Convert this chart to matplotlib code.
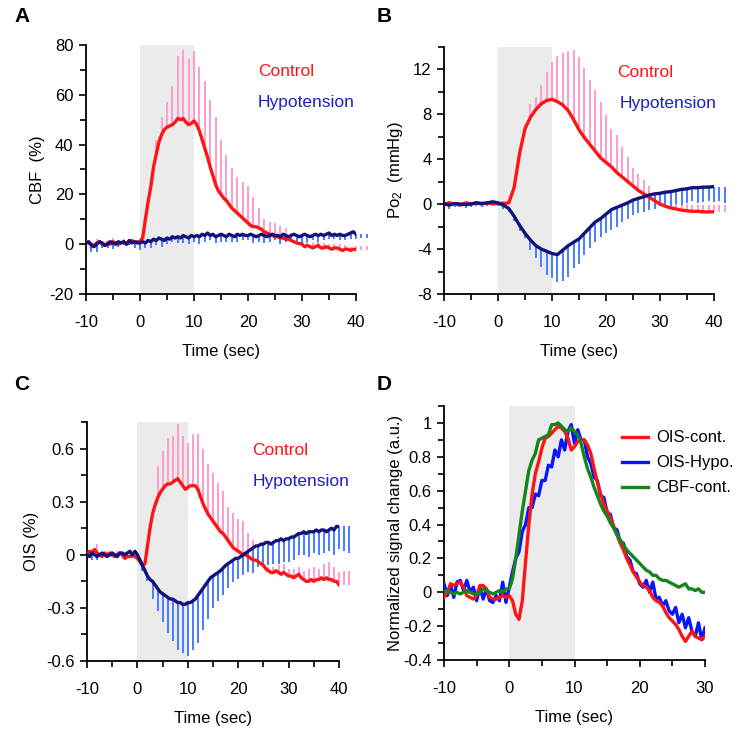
import numpy as np
import matplotlib
matplotlib.use("Agg")
import matplotlib.pyplot as plt
from matplotlib.ticker import MultipleLocator, FixedLocator, FixedFormatter

plt.rcParams['font.family'] = ['Liberation Sans', 'DejaVu Sans']
plt.rcParams['axes.unicode_minus'] = False
plt.rcParams['mathtext.fontset'] = 'custom'
plt.rcParams['mathtext.rm'] = 'Liberation Sans'
plt.rcParams['mathtext.default'] = 'regular'

# ---------------- data ----------------
# Panel A: CBF (%) sampled every 0.5 s from -10 to 40 s
A_ctrl = [1, 0.5, 0, -0.5, 0.5, 1, 0, -0.5, 0.5, 0, 1, 0.5, 0, 0.5, 1, 0, 0.5, 1.5, 0.5, 1, 1,
          2.5, 10, 17, 23, 31, 36, 41, 44, 46, 47, 47.5, 48, 49, 50.5, 50, 50.5, 49, 48, 48.5, 49.5,
          48, 45.5, 42, 38.5, 35, 31, 27.5, 24, 21.5, 20, 18.5, 17.5, 16, 14.5, 13.5, 12.5, 11.5, 10.5, 9.5, 8.5,
          7.5, 7, 7, 6.5, 6, 5, 4.5, 4, 3.5, 3, 3, 2.5, 2.5, 2, 2, 1.5, 1, 0.5, 0.3, 0,
          -1, -0.5, -1, -1.5, -1, -0.5, -1.5, -1.5, -1, -1.5, -2, -1.5, -1.5, -2, -2.5, -2, -2, -2.5, -2, -2.2]
A_hypo = [0.5, 1, -0.5, -1, 0, 1, 0.5, -0.5, 0, 1, 0.5, 0, 1, 0.5, 1, 0, 1.5, 0.5, 1, 0.5, 0.5,
          1, 0.5, 1.5, 1, 2, 1.5, 2.5, 2, 1.5, 2.5, 2, 3, 2.5, 3, 2.5, 3.5, 3, 2.5, 3.5, 3,
          3.5, 3, 4, 3.5, 4.5, 3.5, 4, 3, 3.5, 4, 3.5, 3, 4, 3.5, 3, 4, 3.5, 4, 3.5, 3.5,
          4, 3.5, 3, 3.5, 4, 3.5, 3, 3.5, 4, 3.5, 3.5, 3, 4, 3.5, 3, 3.5, 4, 3.5, 3, 3.5,
          4, 3.5, 3, 3.5, 4, 3.5, 4, 3.5, 4, 4.5, 3.5, 4, 3.5, 4, 3.5, 3.5, 4, 4.5, 5, 4]
# error bars (SEM), one per second from -9 s
A_ctrl_err = [1, 1.5, 1, 1, 1.5, 1, 1, 1.5, 1, 1, 1, 1,
              6, 7, 10, 15.5, 25, 27.5, 26.5, 28, 25.5, 27, 27, 27, 22, 18.5, 16, 14.5, 14.5, 15,
              12, 8, 5, 5, 5.5, 5, 4.5, 3, 2, 1.5, 1.5, 2, 1.5, 2, 1.5, 1.5, 2, 1.5, 1.5, 1.5, 1.5, 1.5]
A_hypo_err = [2.5, 3, 2, 1.5, 2.5, 2, 1.5, 2, 2.5, 3, 2, 2.5, 2, 3, 2.5, 2, 2.5, 3, 2.5, 2,
              3, 2.5, 2, 2.5, 3, 2, 2.5, 3, 2.5, 2, 3, 2.5, 3, 2.5, 2, 3, 2.5, 2, 2.5, 3,
              2.5, 2, 2.5, 2, 2.5, 2, 2.5, 2, 2.5, 2, 1.5, 1.5]

# Panel B: Po2 (mmHg) sampled every 1 s from -10 to 40 s
B_ctrl = [0, 0.1, 0, -0.1, 0.1, 0, 0.1, 0, 0.1, 0, 0.05,
          0.05, 0.1, 1.5, 4.5, 6.7, 7.7, 8.4, 8.9, 9.2, 9.3,
          9.1, 8.8, 8.3, 7.5, 6.6, 5.9, 5.3, 4.7, 4.1, 3.7,
          3.3, 2.8, 2.4, 2.0, 1.6, 1.2, 0.9, 0.6, 0.3, 0.0,
          -0.2, -0.35, -0.45, -0.55, -0.6, -0.65, -0.65, -0.7, -0.7, -0.7]
B_hypo = [0, -0.1, 0.05, 0, -0.05, 0, 0.1, 0.05, 0.1, 0.2, 0.1,
          -0.1, -0.4, -1.1, -1.9, -2.6, -3.2, -3.7, -4.0, -4.2, -4.4,
          -4.5, -4.1, -3.7, -3.4, -3.1, -2.6, -2.1, -1.6, -1.3, -0.9,
          -0.5, -0.3, -0.1, 0.1, 0.35, 0.5, 0.65, 0.8, 0.9, 0.95,
          1.05, 1.1, 1.2, 1.3, 1.35, 1.45, 1.45, 1.5, 1.5, 1.55]
B_ctrl_err = [0.2, 0.2, 0.2, 0.2, 0.2, 0.2, 0.2, 0.2, 0.2, 0.2, 0.2, 0.2, 0.2, 0.2, 0.2,
              1.2, 1.1, 1.7, 2.5, 3.35, 4.1, 4.6, 5.3, 6.2, 6.5, 6.2, 5.7, 5.4, 5.0, 4.2,
              3.4, 3.3, 2.7, 2.2, 1.6, 1.5, 1.2, 1.0, 0.8, 0.7,
              0.6, 0.6, 0.6, 0.6, 0.6, 0.6, 0.6, 0.6, 0.6, 0.6, 0.6, 0.6]
B_hypo_err = [0.3, 0.3, 0.3, 0.3, 0.3, 0.3, 0.3, 0.3, 0.3, 0.3, 0.3,
              0.3, 0.4, 0.5, 0.45, 0.9, 1.1, 1.6, 2.1, 2.2, 2.4, 2.75, 2.8, 2.3, 2.2, 1.9, 1.8,
              1.75, 1.6, 1.7, 1.8, 1.7, 1.5, 1.4, 1.35, 1.3, 1.35, 1.3, 1.3, 1.15,
              1.2, 1.3, 1.2, 1.4, 1.3, 1.2, 1.4, 1.3, 1.2, 1.4, 1.3, 1.5]

# Panel C: OIS (%) sampled every 0.5 s from -10 to 40 s
C_ctrl = [0.0, 0.02, 0.01, 0.03, 0.01, 0.0, -0.01, 0.01, 0.0, 0.01, 0.0, -0.01, 0.0, 0.01, 0.0, -0.02, -0.01, -0.01, 0.0, -0.01, -0.02,
          -0.04, -0.06, -0.05, 0.05, 0.15, 0.23, 0.28, 0.32, 0.35, 0.37, 0.39, 0.4, 0.4, 0.41, 0.42, 0.43, 0.41, 0.39, 0.37, 0.38,
          0.39, 0.39, 0.39, 0.37, 0.33, 0.29, 0.26, 0.23, 0.21, 0.19, 0.17, 0.15, 0.13, 0.12, 0.1, 0.08, 0.06, 0.04, 0.03, 0.02,
          0.01, 0.0, 0.0, -0.01, -0.02, -0.03, -0.03, -0.04, -0.05, -0.06, -0.08, -0.09, -0.1, -0.1, -0.09, -0.1, -0.11, -0.1, -0.11, -0.12,
          -0.12, -0.13, -0.12, -0.11, -0.13, -0.14, -0.15, -0.15, -0.14, -0.15, -0.14, -0.14, -0.13, -0.14, -0.13, -0.14, -0.14, -0.15, -0.15, -0.17]
C_hypo = [0.0, -0.01, 0.01, 0.0, -0.01, 0.0, 0.01, 0.0, -0.01, 0.0, 0.01, 0.0, -0.01, 0.01, 0.01, 0.0, 0.01, 0.02, 0.0, 0.02, 0.0,
          -0.03, -0.06, -0.09, -0.12, -0.14, -0.15, -0.17, -0.19, -0.21, -0.22, -0.23, -0.24, -0.25, -0.25, -0.26, -0.27, -0.27, -0.28, -0.28, -0.27,
          -0.27, -0.26, -0.25, -0.23, -0.21, -0.19, -0.17, -0.15, -0.13, -0.12, -0.11, -0.1, -0.09, -0.075, -0.06, -0.05, -0.04, -0.03, -0.02, -0.02,
          -0.01, 0.0, 0.01, 0.02, 0.03, 0.04, 0.05, 0.05, 0.06, 0.06, 0.07, 0.07, 0.06, 0.07, 0.08, 0.08, 0.09, 0.08, 0.09, 0.09,
          0.1, 0.1, 0.11, 0.12, 0.12, 0.13, 0.12, 0.13, 0.13, 0.13, 0.14, 0.13, 0.14, 0.14, 0.13, 0.14, 0.15, 0.14, 0.16, 0.16]
C_ctrl_err = [0.02, 0.05, 0.02, 0.01, 0.02, 0.02, 0.01, 0.02, 0.01, 0.02, 0.01, 0.01, 0.02,
              0.18, 0.215, 0.26, 0.26, 0.31, 0.28, 0.25, 0.29, 0.31, 0.31, 0.28, 0.27, 0.256, 0.24,
              0.19, 0.196, 0.18, 0.19, 0.133, 0.115, 0.04, 0.03, 0.02, 0.03, 0.04, 0.05, 0.04,
              0.05, 0.04, 0.05, 0.07, 0.08, 0.06, 0.09, 0.1, 0.08, 0.07, 0.08, 0.08]
C_hypo_err = [0.04, 0.02, 0.02, 0.01, 0.02, 0.01, 0.02, 0.01, 0.02, 0.02, 0.03, 0.03,
              0.1, 0.13, 0.16, 0.2, 0.235, 0.27, 0.275, 0.3, 0.28, 0.27, 0.235, 0.21, 0.18, 0.16,
              0.15, 0.135, 0.125, 0.115, 0.113, 0.115, 0.145, 0.12,
              0.12, 0.13, 0.12, 0.13, 0.12, 0.13, 0.13, 0.12, 0.13, 0.14, 0.12, 0.13, 0.13, 0.12, 0.14, 0.13, 0.14, 0.15]

# Panel D: normalized signal change sampled every 0.5 s from -10 to 30 s
D_ois_cont = [-0.03, 0.0, 0.05, 0.04, 0.05, 0.06, 0.03, -0.02, -0.03, -0.04, -0.02, 0.04, 0.04, 0.02, -0.03, -0.04, -0.04, -0.03, -0.02, -0.03, -0.02,
              -0.05, -0.13, -0.16, -0.05, 0.18, 0.40, 0.58, 0.70, 0.77, 0.85, 0.91, 0.92, 0.94, 0.96, 0.98, 0.97, 0.95, 0.91, 0.84, 0.86,
              0.89, 0.9, 0.9, 0.87, 0.82, 0.73, 0.65, 0.58, 0.52, 0.48, 0.44, 0.39, 0.34, 0.29, 0.25, 0.2, 0.16, 0.12, 0.09, 0.06,
              0.04, 0.03, 0.01, -0.03, -0.05, -0.06, -0.08, -0.12, -0.15, -0.17, -0.19, -0.22, -0.26, -0.29, -0.26, -0.23, -0.26, -0.27, -0.28, -0.26]
D_ois_hypo = [0.05, -0.02, 0.04, -0.03, 0.06, 0.07, 0.01, 0.07, 0.0, 0.03, -0.05, 0.03, -0.04, 0.02, -0.05, -0.06, -0.02, -0.05, 0.06, -0.06, 0.03,
              0.12, 0.2, 0.24, 0.36, 0.4, 0.5, 0.5, 0.58, 0.57, 0.66, 0.66, 0.75, 0.74, 0.84, 0.8, 0.9, 0.84, 0.95, 0.99, 0.88,
              0.96, 0.9, 0.9, 0.8, 0.76, 0.68, 0.66, 0.57, 0.56, 0.47, 0.46, 0.38, 0.37, 0.3, 0.29, 0.21, 0.19, 0.12, 0.11, 0.05,
              0.03, 0.07, 0.0, 0.06, -0.04, -0.03, -0.08, -0.05, -0.11, -0.13, -0.09, -0.18, -0.13, -0.21, -0.15, -0.23, -0.26, -0.18, -0.28, -0.21]
D_cbf_cont = [0.0, 0.01, 0.0, -0.01, 0.0, -0.01, 0.0, 0.01, 0.0, -0.01, -0.01, 0.0, 0.02, 0.01, 0.0, -0.01, 0.0, 0.01, 0.0, 0.02, 0.02,
              0.08, 0.2, 0.34, 0.48, 0.6, 0.72, 0.78, 0.82, 0.9, 0.91, 0.92, 0.93, 0.99, 0.99, 1.0, 0.98, 0.96, 0.95, 0.97, 0.95,
              0.93, 0.88, 0.8, 0.73, 0.68, 0.62, 0.57, 0.52, 0.48, 0.45, 0.41, 0.38, 0.34, 0.31, 0.28, 0.25, 0.23, 0.21, 0.19, 0.17,
              0.15, 0.13, 0.12, 0.1, 0.1, 0.08, 0.07, 0.07, 0.06, 0.05, 0.04, 0.03, 0.04, 0.05, 0.02, 0.02, 0.01, 0.02, 0.0, 0.0]

x_ticks_abc = [-10, 0, 10, 20, 30, 40]
x_ticks_d = [-10, 0, 10, 20, 30]
A_yticks = [-20, 0, 20, 40, 60, 80]
B_yticks = [-8, -4, 0, 4, 8, 12]
C_yticks = [-0.6, -0.3, 0, 0.3, 0.6]
C_yticklabels = ["-0.6", "-0.3", "0", "0.3", "0.6"]
D_yticks = [-0.4, -0.2, 0, 0.2, 0.4, 0.6, 0.8, 1.0]
D_yticklabels = ["-0.4", "-0.2", "0", "0.2", "0.4", "0.6", "0.8", "1"]

# ---------------- style ----------------
RED = "#ff1414"
NAVY = "#12127a"
PINK = "#ff9ccc"
LBLUE = "#4a7cff"
TXTBLUE = "#1e1ec8"
SHADE = "#ebebeb"
FS = 12

W, H = 750, 740
fig = plt.figure(figsize=(7.5, 7.4), dpi=100)


def ax_px(left, right, top, bottom):
    return fig.add_axes([left / W, 1 - bottom / H, (right - left) / W, (bottom - top) / H])


def style(ax, xlim, ylim, xticks, yticks, ymin_step, yticklabels=None):
    ax.set_xlim(*xlim)
    ax.set_ylim(*ylim)
    for s in ("top", "right"):
        ax.spines[s].set_visible(False)
    for s in ("left", "bottom"):
        ax.spines[s].set_linewidth(1.3)
    ax.xaxis.set_major_locator(FixedLocator(xticks))
    ax.xaxis.set_minor_locator(MultipleLocator(5))
    ax.yaxis.set_major_locator(FixedLocator(yticks))
    if yticklabels is not None:
        ax.yaxis.set_major_formatter(FixedFormatter(yticklabels))
    ax.yaxis.set_minor_locator(MultipleLocator(ymin_step))
    ax.tick_params(which="both", direction="out", width=1.2, labelsize=FS)
    ax.tick_params(which="major", length=5)
    ax.tick_params(axis="y", which="major", pad=4)
    ax.tick_params(axis="x", which="major", pad=10)
    ax.tick_params(which="minor", length=4)
    ax.axvspan(0, 10, color=SHADE, zorder=0, lw=0)
    ax.set_xlabel("Time (sec)", fontsize=FS, labelpad=10)


def draw_bars(ax, t, y, err, color, up=True):
    tb = -9 + np.arange(len(err))
    base = np.interp(tb, t, y)
    e = np.asarray(err)
    tip = base + e if up else base - e
    ax.vlines(tb, base, tip, colors=color, lw=1.4, zorder=2, clip_on=False)


def panel(ax, ctrl, hypo, ctrl_err, hypo_err, hypo_up=False):
    t = np.linspace(-10, 40, len(ctrl))
    t2 = np.linspace(-10, 40, len(hypo))
    draw_bars(ax, t, ctrl, ctrl_err, PINK, up=True)
    draw_bars(ax, t2, hypo, hypo_err, LBLUE, up=hypo_up)
    ax.plot(t, ctrl, color=RED, lw=2.4, zorder=3, solid_joinstyle="round")
    ax.plot(t2, hypo, color=NAVY, lw=2.4, zorder=4, solid_joinstyle="round")


# Panel A
axA = ax_px(86, 356, 45, 294)
style(axA, (-10, 40), (-20, 80), x_ticks_abc, A_yticks, 10)
panel(axA, A_ctrl, A_hypo, A_ctrl_err, A_hypo_err)
axA.set_ylabel("CBF  (%)", fontsize=FS, labelpad=3)
axA.text(0.637, 0.892, "Control", color=RED, fontsize=FS + 0.5, transform=axA.transAxes, va="center")
axA.text(0.637, 0.771, "Hypotension", color=TXTBLUE, fontsize=FS + 0.5, transform=axA.transAxes, va="center")

# Panel B
axB = ax_px(444, 714, 46.5, 294)
style(axB, (-10, 40), (-8, 14), x_ticks_abc, B_yticks, 2)
panel(axB, B_ctrl, B_hypo, B_ctrl_err, B_hypo_err)
axB.set_ylabel("Po$_2$  (mmHg)", fontsize=FS, labelpad=6)
axB.text(0.643, 0.894, "Control", color=RED, fontsize=FS + 0.5, transform=axB.transAxes, va="center")
axB.text(0.652, 0.768, "Hypotension", color=TXTBLUE, fontsize=FS + 0.5, transform=axB.transAxes, va="center")

# Panel C
axC = ax_px(87, 339, 422, 661)
style(axC, (-10, 40), (-0.6, 0.75), x_ticks_abc, C_yticks, 0.15, C_yticklabels)
panel(axC, C_ctrl, C_hypo, C_ctrl_err, C_hypo_err)
axC.set_ylabel("OIS (%)", fontsize=FS, labelpad=5)
axC.text(0.654, 0.88, "Control", color=RED, fontsize=FS + 0.5, transform=axC.transAxes, va="center")
axC.text(0.656, 0.75, "Hypotension", color=TXTBLUE, fontsize=FS + 0.5, transform=axC.transAxes, va="center")

# Panel D
axD = ax_px(444, 705, 406, 660)
style(axD, (-10, 30), (-0.4, 1.1), x_ticks_d, D_yticks, 0.1, D_yticklabels)
tD = np.linspace(-10, 30, len(D_ois_cont))
lb, = axD.plot(np.linspace(-10, 30, len(D_ois_hypo)), D_ois_hypo, color="#0a14ff", lw=2.4, zorder=3, label="OIS-Hypo.")
lr, = axD.plot(tD, D_ois_cont, color="#ff1414", lw=2.4, zorder=4, label="OIS-cont.")
lg, = axD.plot(np.linspace(-10, 30, len(D_cbf_cont)), D_cbf_cont, color="#15841a", lw=2.4, zorder=5, label="CBF-cont.")
axD.set_ylabel("Normalized signal change (a.u.)", fontsize=FS, labelpad=0)
axD.legend(handles=[lr, lb, lg], frameon=False, loc="upper left", bbox_to_anchor=(0.655, 0.93),
           fontsize=FS, handlelength=1.6, handletextpad=0.5, labelspacing=0.6, borderaxespad=0)

# panel letters
for txt, x, y in (("A", 22, 16), ("B", 384, 16), ("C", 22, 384), ("D", 384, 384)):
    fig.text(x / W, 1 - y / H, txt, fontsize=15, fontweight="bold", ha="center", va="center")

fig.savefig("out.png", dpi=100)
